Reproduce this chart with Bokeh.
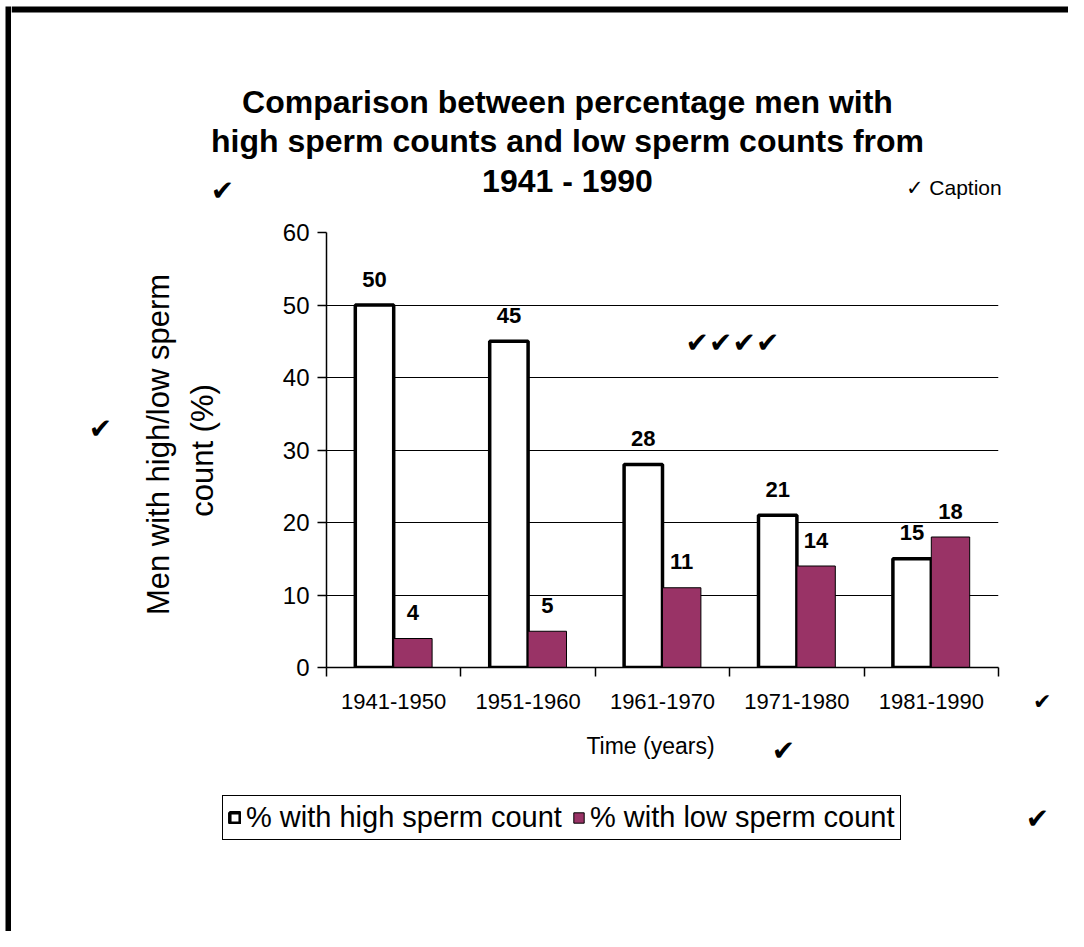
import math
from bokeh.plotting import figure
from bokeh.layouts import column, row
from bokeh.models import (ColumnDataSource, Range1d, LinearAxis, FixedTicker, LabelSet,
                          Label, Legend, LegendItem, Grid, BoxAnnotation)
from bokeh.core.properties import value
from bokeh.transform import dodge
from bokeh.embed import file_html
from bokeh.resources import INLINE

# ---------------- data ----------------
periods = ["1941-1950", "1951-1960", "1961-1970", "1971-1980", "1981-1990"]
high = [50, 45, 28, 21, 15]
low = [4, 5, 11, 14, 18]
y_ticks = [0, 10, 20, 30, 40, 50, 60]
series_names = ["% with high sperm count", "% with low sperm count"]
title_lines = ["Comparison between percentage men with",
               "high sperm counts and low sperm counts from",
               "1941 - 1990"]
y_title_lines = ["Men with high/low sperm", "count (%)"]
x_title = "Time (years)"
caption = "\u2713 Caption"
check = "\u2714"

# ---------------- geometry (page pixels) ----------------
W, H = 1068, 931
EDGE = 11                  # width of the left edge strip
LEFT_X = 250               # left content strip ends here
FL, FR = 326, 998          # frame left/right on page
FT, FB = 232, 667          # frame top/bottom on page
TOP_H = 216                # top strip height
MID_B = 723                # bottom of middle row

SANS = "Liberation Sans"
CHK = "DejaVu Sans"
MAROON = "#993366"
NB = "\u00a0"


def canvas_fig(x0, y0, w, h, **kw):
    f = figure(width=w, height=h, x_range=Range1d(x0, x0 + w), y_range=Range1d(y0 + h, y0),
               output_backend="svg", toolbar_location=None,
               x_axis_type=None, y_axis_type=None, min_border=0, **kw)
    f.outline_line_color = None
    f.background_fill_color = "white"
    f.border_fill_color = "white"
    return f


def put(f, text, X, Y, size, font=SANS, style="normal", align="center", angle=0.0):
    f.add_layout(Label(x=X, y=Y, text=text, text_font=font, text_font_size=f"{size}px",
                       text_font_style=style, text_align=align, text_baseline="middle",
                       angle=angle, text_color="black"))


def tick(f, X, Y):
    put(f, check, X, Y, 28, font=CHK)


def strip(f, l, r, t, b, color="black"):
    f.add_layout(BoxAnnotation(left=l, right=r, top=t, bottom=b, fill_color=color,
                               fill_alpha=1.0, line_color=None, level="underlay"))


# ---------------- left edge strip ----------------
edge = canvas_fig(0, 0, EDGE, H)
strip(edge, 5, EDGE, 6, H)

# ---------------- top strip ----------------
top = canvas_fig(EDGE, 0, W - EDGE, TOP_H)
strip(top, EDGE, W, 6, 12)
for line, yy in zip(title_lines, [101, 140, 180]):
    put(top, line, 567, yy, 32, style="bold")
put(top, caption, 905, 187, 21, align="left")
tick(top, 222, 190)

# ---------------- left content strip (same frame rows as main chart) ----------------
left = figure(width=LEFT_X - EDGE, height=MID_B - TOP_H,
              x_range=Range1d(EDGE, LEFT_X), y_range=Range1d(FB, FT),
              output_backend="svg", toolbar_location=None,
              x_axis_type=None, y_axis_type=None,
              min_border_left=0, min_border_right=0,
              min_border_top=FT - TOP_H, min_border_bottom=MID_B - FB)
left.outline_line_color = None
left.background_fill_color = "white"
left.border_fill_color = "white"
put(left, y_title_lines[0], 158, 444, 31, angle=math.pi / 2)
put(left, y_title_lines[1], 202, 450, 31, angle=math.pi / 2)
tick(left, 100, 428)

# ---------------- main chart ----------------
p = figure(width=W - LEFT_X, height=MID_B - TOP_H,
           x_range=Range1d(0, len(periods)), y_range=Range1d(0, 60),
           output_backend="svg", toolbar_location=None,
           x_axis_type=None, y_axis_type=None,
           min_border_left=FL - LEFT_X, min_border_right=W - FR,
           min_border_top=FT - TOP_H, min_border_bottom=MID_B - FB)
p.outline_line_color = None
p.background_fill_color = "white"
p.border_fill_color = "white"

yaxis = LinearAxis(ticker=FixedTicker(ticks=y_ticks, minor_ticks=[]))
yaxis.axis_line_color = "black"
yaxis.axis_line_width = 1.5
yaxis.major_tick_line_color = "black"
yaxis.major_tick_line_width = 1.5
yaxis.major_tick_out = 9
yaxis.major_tick_in = 0
yaxis.minor_tick_line_color = None
yaxis.major_label_text_font = SANS
yaxis.major_label_text_font_size = "24px"
yaxis.major_label_text_color = "black"
yaxis.major_label_standoff = 8
p.add_layout(yaxis, "left")

centers = [i + 0.5 for i in range(len(periods))]
bounds = [float(i) for i in range(len(periods) + 1)]
tick_text = {c: lab for c, lab in zip(centers, periods)}
# the marker's tick to the right of the last category label
tick_text[centers[-1]] = NB * 11 + periods[-1] + NB * 8 + check
xaxis = LinearAxis(ticker=FixedTicker(ticks=centers, minor_ticks=bounds))
xaxis.major_label_overrides = tick_text
xaxis.axis_line_color = "black"
xaxis.axis_line_width = 1.5
xaxis.major_tick_line_color = None
xaxis.major_tick_out = 9
xaxis.major_tick_in = 0
xaxis.minor_tick_line_color = "black"
xaxis.minor_tick_line_width = 1.5
xaxis.minor_tick_out = 9
xaxis.minor_tick_in = 0
xaxis.major_label_text_font = SANS
xaxis.major_label_text_font_size = "22px"
xaxis.major_label_text_color = "black"
xaxis.major_label_standoff = 12
p.add_layout(xaxis, "below")

p.add_layout(Grid(dimension=1, ticker=FixedTicker(ticks=y_ticks[1:]),
                  grid_line_color="black", grid_line_width=1.2))

src = ColumnDataSource(dict(x=centers, period=periods, high=high, low=low,
                            high_txt=[str(v) for v in high], low_txt=[str(v) for v in low]))
BW = 1 / 3.5
HIGH_STYLE = dict(fill_color="white", line_color="black", line_width=3.5)
LOW_STYLE = dict(fill_color=MAROON, line_color="black", line_width=1)
p.vbar(x=dodge("x", -BW / 2, range=p.x_range), top="high", width=BW, source=src, **HIGH_STYLE)
p.vbar(x=dodge("x", BW / 2, range=p.x_range), top="low", width=BW, source=src, **LOW_STYLE)

for col, off in (("high", -BW / 2), ("low", BW / 2)):
    p.add_layout(LabelSet(x=dodge("x", off, range=p.x_range), y=col, text=col + "_txt",
                          source=src, text_align="center", text_baseline="middle",
                          y_offset=26, text_font=value(SANS), text_font_size=value("22px"),
                          text_font_style=value("bold"), text_color=value("black")))

p.add_layout(Label(x=732 - FL, y=FB - 342, x_units="screen", y_units="screen",
                   text=check * 4, text_font=CHK, text_font_size="28px",
                   text_align="center", text_baseline="middle", text_color="black"))

# ---------------- bottom strip ----------------
bottom = canvas_fig(EDGE, MID_B, W - EDGE, H - MID_B)
put(bottom, x_title, 650, 745, 23)
tick(bottom, 783, 750)
tick(bottom, 1037, 818)

# legend swatches: hidden copies of the two bar series
lh = bottom.vbar(x="x", top="high", width=BW, source=src, visible=False, **HIGH_STYLE)
ll = bottom.vbar(x="x", top="low", width=BW, source=src, visible=False, **LOW_STYLE)
legend = Legend(items=[LegendItem(label=series_names[0], renderers=[lh]),
                       LegendItem(label=series_names[1], renderers=[ll])],
                orientation="horizontal", location=(222 - EDGE, H - 840),
                border_line_color="black", border_line_width=1.5, border_line_alpha=1.0,
                background_fill_color="white", background_fill_alpha=1.0,
                inactive_fill_alpha=0.0,
                label_text_font=SANS, label_text_font_size="29px", label_text_color="black",
                glyph_width=13, glyph_height=13, padding=5, spacing=10,
                label_standoff=5, margin=0)
bottom.add_layout(legend, "center")

right_part = column(top, row(left, p, spacing=0), bottom, spacing=0)
layout = row(edge, right_part, spacing=0)
open("out.html", "w").write(file_html(layout, INLINE))
